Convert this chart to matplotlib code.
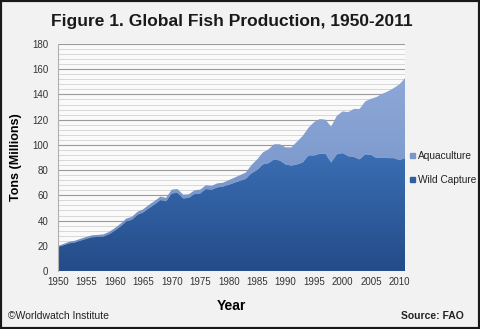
import matplotlib.pyplot as plt
import numpy as np
from matplotlib.colors import LinearSegmentedColormap
from matplotlib.patches import Rectangle

plt.rcParams['font.family'] = ['Liberation Sans', 'DejaVu Sans']

years = np.arange(1950, 2012)

# million tons
wild_capture = [18.8, 20.5, 22.0, 22.7, 24.2, 25.5, 26.8, 27.0, 27.3, 29.2,
                32.0, 35.4, 39.3, 40.7, 44.6, 46.5, 49.8, 52.8, 56.2, 55.3,
                61.5, 62.0, 57.5, 58.0, 61.0, 61.5, 65.0, 64.5, 66.3, 67.0,
                68.3, 70.0, 71.5, 73.0, 77.5, 80.0, 84.5, 85.5, 88.5, 87.5,
                84.5, 83.5, 84.5, 86.0, 91.5, 91.5, 93.0, 93.0, 86.0, 92.5,
                93.5, 91.0, 90.5, 88.5, 92.5, 92.0, 89.5, 90.0, 89.5, 89.5,
                88.0, 89.5]
total = [19.8, 21.5, 23.2, 24.0, 25.6, 27.0, 28.3, 28.6, 29.0, 31.0,
         34.0, 37.5, 41.5, 43.0, 47.0, 49.0, 52.5, 55.5, 59.0, 58.0,
         64.5, 65.0, 60.5, 60.8, 64.0, 64.5, 68.0, 67.5, 69.5, 70.0,
         72.0, 74.0, 76.0, 78.0, 84.0, 88.5, 94.0, 96.5, 100.5, 100.5,
         98.0, 98.0, 102.5, 107.0, 113.5, 118.0, 120.5, 120.0, 114.5, 123.0,
         126.5, 126.0, 128.5, 128.5, 134.5, 136.5, 138.0, 140.5, 142.5, 145.0,
         148.0, 153.0]
aquaculture = [t - w for t, w in zip(total, wild_capture)]

wild_capture = np.array(wild_capture)
aquaculture = np.array(aquaculture)
stack_top = wild_capture + aquaculture

fig = plt.figure(figsize=(4.8, 3.29), dpi=100, facecolor='#f2f2f2')
ax = fig.add_axes([0.1208, 0.1763, 0.7232, 0.69])
ax.set_facecolor('#fafafa')


def gradient_fill(ax, x, y1, y2, top_color, bottom_color, ymax):
    poly = ax.fill_between(x, y1, y2, color='none', lw=0, zorder=2)
    cmap = LinearSegmentedColormap.from_list('g', [bottom_color, top_color])
    grad = np.linspace(0, 1, 256).reshape(-1, 1)
    im = ax.imshow(grad, cmap=cmap, aspect='auto', origin='lower',
                   extent=[x[0], x[-1], 0, ymax], zorder=2)
    path = poly.get_paths()[0]
    im.set_clip_path(path, transform=ax.transData)
    return poly


gradient_fill(ax, years, wild_capture, stack_top, '#8ea9d8', '#6f8cc3', 160)
gradient_fill(ax, years, 0, wild_capture, '#3b6eb4', '#234c88', 95)

ax.set_xlim(1950, 2011)
ax.set_ylim(0, 180)
ax.set_yticks(np.arange(0, 181, 20))
ax.set_yticks(np.arange(0, 181, 4), minor=True)
ax.set_xticks(np.arange(1950, 2011, 5))
ax.grid(True, which='major', axis='y', color='#9a9a9a', lw=0.8, zorder=1)
ax.grid(True, which='minor', axis='y', color='#d2d2d2', lw=0.6, zorder=1)
ax.set_axisbelow(True)

for side in ['top', 'right', 'bottom']:
    ax.spines[side].set_visible(False)
ax.spines['left'].set_color('#b0b0b0')
ax.spines['left'].set_linewidth(0.8)
ax.tick_params(axis='both', which='both', length=0, labelsize=7, labelcolor='#333333')
ax.tick_params(axis='y', pad=7)
ax.tick_params(axis='x', pad=4)

ax.set_xlabel('Year', fontsize=10, fontweight='bold', labelpad=9)
ax.set_ylabel('Tons (Millions)', fontsize=9, fontweight='bold', labelpad=7)

fig.text(0.483, 0.935, 'Figure 1. Global Fish Production, 1950-2011',
         ha='center', va='center', fontsize=12.5, fontweight='bold', color='#1a1a1a')

# legend
fig.patches.append(Rectangle((0.855, 0.521), 0.009, 0.013, transform=fig.transFigure,
                             color='#7b96c9'))
fig.text(0.870, 0.527, 'Aquaculture', fontsize=7.3, va='center', color='#222222')
fig.patches.append(Rectangle((0.855, 0.448), 0.009, 0.013, transform=fig.transFigure,
                             color='#2f5f9f'))
fig.text(0.870, 0.454, 'Wild Capture', fontsize=7.3, va='center', color='#222222')

fig.text(0.017, 0.04, '\u00a9Worldwatch Institute', fontsize=7.5, va='center', color='#222222')
fig.text(0.967, 0.04, 'Source: FAO', fontsize=7.5, fontweight='bold', ha='right',
         va='center', color='#222222')

fig.patches.append(Rectangle((0, 0), 1, 1, transform=fig.transFigure, fill=False,
                             ec='#1a1a1a', lw=3))

fig.savefig('out.png', dpi=100, facecolor=fig.get_facecolor())
